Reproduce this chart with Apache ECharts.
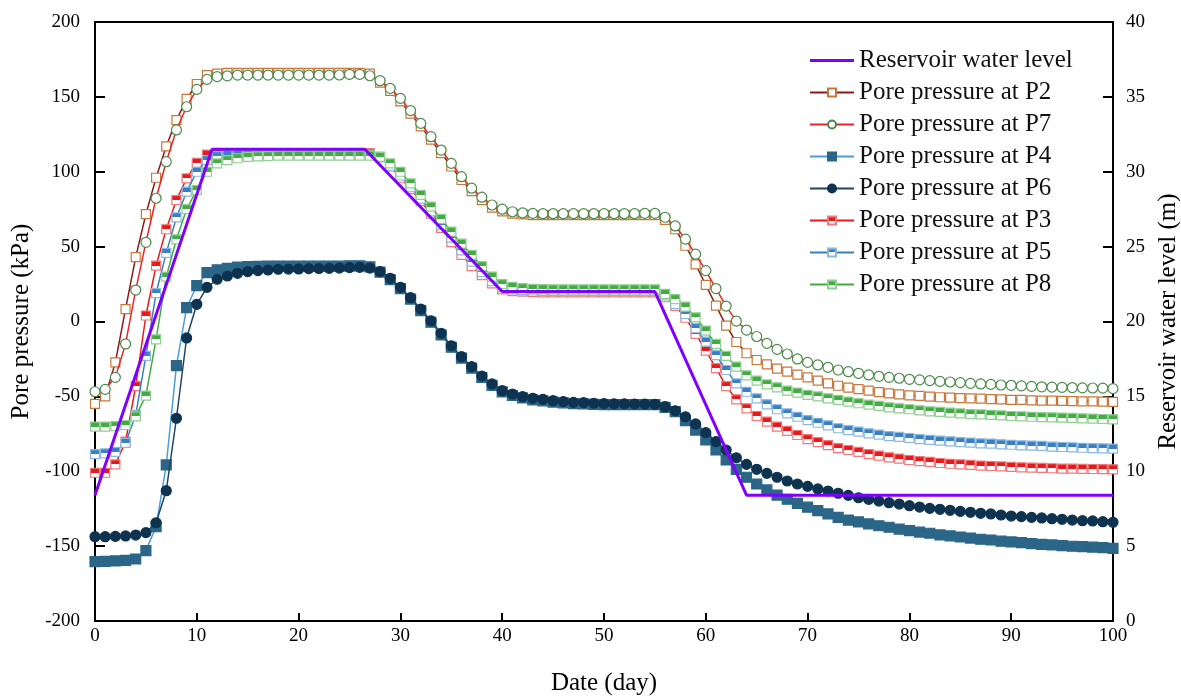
<!DOCTYPE html>
<html><head><meta charset="utf-8">
<script src="https://cdn.jsdelivr.net/npm/echarts@6/dist/echarts.min.js"></script>
<style>html,body{margin:0;padding:0;background:#fff}#c{width:1181px;height:697px}</style>
</head><body><div id="c"></div>
<script>
// Day axis (0..100)
const days = Array.from({length: 101}, (_, i) => i);

// Reservoir water level (m), right axis
const resDays  = [0, 11.5, 26.5, 40, 55, 64, 100];
const resLevel = [8.4, 31.5, 31.5, 22.0, 22.0, 8.4, 8.4];

// Pore pressures (kPa), one value per day
const p2 = [
 -55, -50, -27.3, 8.3, 43, 71.7, 96, 117, 134.5, 148.6,
 158.6, 164.5, 165.5, 166, 166, 166, 166, 166, 166, 166,
 166, 166, 166, 166, 166, 166, 166, 165.5, 159.5, 154,
 147, 138.8, 130.3, 121.4, 112.5, 103.5, 94.5, 87, 81, 76,
 73.5, 72, 71.5, 71, 71, 71, 71, 71, 71, 71,
 71, 71, 71, 71, 71, 71, 67.8, 61.6, 50.6, 38.2,
 24.4, 10.6, -2.8, -13.7, -21.2, -25.7, -28.6, -31.5, -33.5, -35.5,
 -37.3, -39.5, -41.3, -42.9, -44.2, -45.1, -46.2, -47.1, -48, -48.6,
 -49.3, -49.7, -50.2, -50.6, -50.9, -51.2, -51.3, -51.5, -51.8, -52,
 -52.3, -52.4, -52.7, -52.8, -52.9, -53, -53.2, -53.3, -53.4, -53.5,
 -53.7];
const p7 = [
 -46.9, -45.3, -37.3, -15, 21, 52.9, 82.3, 106.7, 127.9, 143.4,
 155, 161.7, 163.5, 164, 164.5, 164.5, 164.5, 164.5, 164.5, 164.5,
 164.5, 164.5, 164.5, 164.5, 164.6, 165, 165, 164.1, 160.8, 155.7,
 149, 140.8, 132.3, 123.4, 114.5, 105.6, 96.7, 89, 83, 77.8,
 75, 73.3, 72.5, 72.2, 72, 72, 72, 72, 72, 72,
 72, 72, 72, 72, 72.2, 72.2, 69.6, 63.8, 55, 45,
 34, 22, 10.3, 0.3, -5.7, -10, -14.6, -18.6, -21.7, -25,
 -27.3, -29, -30.6, -32.4, -33.5, -34.6, -35.7, -36.6, -37.3, -37.9,
 -38.6, -39, -39.5, -40, -40.4, -40.8, -41.3, -41.7, -42, -42.4,
 -42.6, -43, -43.3, -43.6, -43.8, -44, -44.1, -44.3, -44.4, -44.5,
 -44.8];
const p4 = [
 -160.4, -160.2, -159.9, -159.5, -158.6, -153, -137, -95.8, -29.5, 9.2,
 24, 32.6, 34.5, 35.5, 36.3, 36.6, 36.8, 37, 37, 37,
 37, 37, 37, 37, 37, 37.2, 37.2, 36.5, 33, 28,
 22, 15, 7.3, -0.5, -9, -17.2, -24.5, -31.2, -37.4, -42.7,
 -47, -49.4, -51, -52.3, -53, -53.8, -54.3, -54.8, -55, -55.3,
 -55.5, -55.5, -55.5, -55.5, -55.5, -55.5, -57.3, -60.2, -66.2, -72.5,
 -79.1, -85.8, -92.5, -98.7, -104, -108.5, -112.5, -115.9, -118.7, -121.5,
 -124, -126.3, -128.5, -130.8, -132.6, -133.8, -135.2, -136.4, -137.4, -138.7,
 -139.7, -140.6, -141.4, -142.5, -143.2, -143.9, -144.6, -145.4, -145.9, -146.7,
 -147.2, -147.7, -148.3, -148.8, -149.2, -149.7, -150.1, -150.4, -150.7, -151,
 -151.5];
const p6 = [
 -143.7, -143.7, -143.5, -143.2, -142.6, -141, -134.4, -113, -64.6, -11,
 11.5, 22.8, 28.2, 30.4, 32.2, 33.3, 34, 34.4, 34.9, 35,
 35.1, 35.3, 35.4, 35.5, 35.7, 36, 36.2, 35.7, 33.3, 28.8,
 22.8, 15.9, 8.3, 0.5, -7.9, -16.2, -23.5, -30.2, -36.4, -41.7,
 -46.2, -48.4, -50.2, -51.3, -52, -52.9, -53.5, -54, -54.2, -54.6,
 -54.8, -55, -55, -55.1, -55.2, -55.3, -56.9, -59.6, -63.6, -68.4,
 -74.2, -80.2, -85.8, -91, -95.4, -98.7, -101.4, -104, -106.5, -108.5,
 -110.1, -111.8, -113.2, -114.7, -116.1, -117.7, -118.8, -119.9, -121, -121.9,
 -123, -123.9, -124.8, -125.4, -126.1, -126.8, -127.4, -128.1, -128.5, -129.2,
 -129.9, -130.3, -130.8, -131.2, -131.7, -132.1, -132.6, -133, -133.2, -133.7,
 -134.1];
const p3 = [
 -101, -101, -95.4, -80.2, -43.2, 4, 37.3, 61.6, 81.1, 95.6,
 106, 111.5, 112.5, 112.5, 112.5, 112.5, 112.5, 112.5, 112.5, 112.5,
 112.5, 112.5, 112.5, 112.5, 112.5, 112.5, 112.5, 112.5, 110, 103.5,
 96, 88.5, 80.5, 72, 62.5, 53, 44.5, 37, 31, 25.5,
 21.5, 20.3, 19.9, 19.6, 19.5, 19.5, 19.5, 19.5, 19.5, 19.5,
 19.5, 19.5, 19.5, 19.5, 19.5, 19.5, 16.2, 10.4, 2.5, -8.3,
 -19.5, -31.2, -43.1, -52, -58, -63.1, -66.9, -70.2, -73.1, -75.8,
 -78.5, -80.6, -82.6, -84.5, -85.8, -87.1, -88.5, -89.6, -90.7, -91.6,
 -92.5, -93.2, -93.8, -94.5, -95, -95.4, -95.8, -96.2, -96.5, -96.8,
 -97.1, -97.4, -97.6, -97.8, -98, -98.2, -98.3, -98.4, -98.5, -98.6,
 -98.7];
const p5 = [
 -88.5, -88, -87, -81, -62.4, -23, 19, 45.8, 69.5, 86.7,
 100, 107.8, 110.5, 111.2, 111.5, 111.5, 111.5, 111.5, 111.5, 111.5,
 111.5, 111.5, 111.5, 111.5, 111.5, 111.5, 111.5, 111.5, 109.5, 104,
 97.5, 90, 82, 73.5, 64.5, 56, 47.5, 40, 33, 27,
 23, 21.5, 21, 20.7, 20.5, 20.5, 20.5, 20.5, 20.5, 20.5,
 20.5, 20.5, 20.5, 20.5, 20.5, 20.5, 17.5, 11.7, 5, -4.5,
 -13.5, -22.4, -32.4, -41.3, -46.9, -51.3, -55.3, -58.6, -61.3, -63.6,
 -65.8, -67.6, -69.3, -71.3, -72.5, -73.6, -74.7, -75.6, -76.5, -77.1,
 -77.8, -78.5, -79.1, -79.6, -80, -80.5, -80.9, -81.4, -81.6, -82,
 -82.3, -82.7, -82.9, -83.1, -83.6, -83.8, -84, -84.3, -84.5, -84.7,
 -84.9];
const p8 = [
 -70.2, -70.2, -69.8, -69.1, -63.4, -49.5, -11.9, 29.9, 54.9, 75,
 87.8, 100, 105.6, 107.8, 109, 110, 110.3, 110.5, 110.8, 110.8,
 110.8, 110.8, 110.8, 110.8, 110.8, 110.8, 110.8, 110.8, 110, 105.6,
 100, 92.3, 84.5, 76.7, 68.5, 60, 52, 44.5, 37, 30,
 25, 23.2, 22.3, 21.8, 21.6, 21.5, 21.5, 21.5, 21.5, 21.5,
 21.5, 21.5, 21.5, 21.5, 21.5, 21.5, 18.4, 15, 9.9, 2.8,
 -6.1, -15, -23, -30.2, -36, -39.5, -42, -44, -46.2, -47.5,
 -49, -50, -51.3, -52.4, -53.5, -54.6, -55.5, -56.4, -57.3, -58,
 -58.6, -59.3, -60, -60.4, -60.9, -61.3, -61.8, -62, -62.4, -62.7,
 -63.1, -63.3, -63.6, -63.8, -64, -64.2, -64.4, -64.7, -64.9, -65.1,
 -65.3];

const FONT = 'Liberation Serif';
function pts(arr) { return arr.map((v, i) => [days[i], v]); }
function halfFill(c) {
  return {type: 'linear', x: 0, y: 0, x2: 0, y2: 1, colorStops: [
    {offset: 0, color: c}, {offset: 0.5, color: c},
    {offset: 0.5, color: '#ffffff'}, {offset: 1, color: '#ffffff'}]};
}
function ser(name, arr, symbol, size, lineColor, fill, border, z) {
  return {
    name: name, type: 'line', data: pts(arr), z: z,
    symbol: symbol, symbolSize: size, showSymbol: true, showAllSymbol: true,
    lineStyle: {color: lineColor, width: 1.5},
    itemStyle: {color: fill, borderColor: border, borderWidth: 1.2},
    emphasis: {disabled: true}
  };
}

const chart = echarts.init(document.getElementById('c'), null, {renderer: 'canvas'});
const axisLabelStyle = {fontFamily: FONT, fontSize: 19, color: '#000'};
const nameStyle = {fontFamily: FONT, fontSize: 25, color: '#000'};
chart.setOption({
  animation: false,
  backgroundColor: '#fff',
  grid: {left: 95, right: 68, top: 22, bottom: 76, containLabel: false, outerBoundsMode: 'none'},
  legend: {
    orient: 'vertical', left: 804, top: 43,
    itemWidth: 44, itemHeight: 10, itemGap: 7,
    textStyle: {fontFamily: FONT, fontSize: 25, color: '#111'},
    data: [
      {name: 'Reservoir water level',
       icon: 'path://M0,0 M44,10 M0,3.6 L44,3.6 L44,6.4 L0,6.4 Z',
       itemStyle: {color: '#8000ff', borderWidth: 0}},
      'Pore pressure at P2', 'Pore pressure at P7',
      'Pore pressure at P4', 'Pore pressure at P6', 'Pore pressure at P3',
      'Pore pressure at P5', 'Pore pressure at P8']
  },
  xAxis: [{
    type: 'value', min: 0, max: 100, interval: 10,
    name: 'Date (day)', nameLocation: 'middle', nameGap: 50, nameTextStyle: nameStyle,
    axisLine: {onZero: false, lineStyle: {color: '#000', width: 2}},
    axisTick: {inside: true, length: 8, lineStyle: {color: '#000', width: 2}},
    axisLabel: Object.assign({margin: 6}, axisLabelStyle),
    splitLine: {show: false}
  }, {
    type: 'value', min: 0, max: 100, position: 'top',
    axisLine: {show: true, onZero: false, lineStyle: {color: '#000', width: 2}},
    axisTick: {show: false}, axisLabel: {show: false}, splitLine: {show: false}
  }],
  yAxis: [{
    type: 'value', min: -200, max: 200, interval: 50, position: 'left',
    name: 'Pore pressure (kPa)', nameLocation: 'middle', nameGap: 58, nameTextStyle: nameStyle,
    axisLine: {show: true, onZero: false, lineStyle: {color: '#000', width: 2}},
    axisTick: {show: true, inside: true, length: 10, lineStyle: {color: '#000', width: 2}},
    axisLabel: Object.assign({margin: 15}, axisLabelStyle),
    splitLine: {show: false}
  }, {
    type: 'value', min: 0, max: 40, interval: 5, position: 'right',
    name: 'Reservoir water level (m)', nameLocation: 'middle', nameGap: 34, nameTextStyle: nameStyle,
    axisLine: {show: true, onZero: false, lineStyle: {color: '#000', width: 2}},
    axisTick: {show: true, inside: true, length: 10, lineStyle: {color: '#000', width: 2}},
    axisLabel: Object.assign({margin: 13}, axisLabelStyle),
    splitLine: {show: false}
  }],
  series: [
    {
      name: 'Reservoir water level', type: 'line', yAxisIndex: 1, z: 20,
      data: resDays.map((d, i) => [d, resLevel[i]]),
      symbol: 'none', lineStyle: {color: '#8000ff', width: 3}, itemStyle: {color: '#8000ff'},
      emphasis: {disabled: true}
    },
    ser('Pore pressure at P2', p2, 'rect', 9, '#8b1a1a', '#ffffff', '#c8773a', 2),
    ser('Pore pressure at P7', p7, 'circle', 10, '#e8262a', '#ffffff', '#4a8a4a', 3),
    ser('Pore pressure at P4', p4, 'rect', 10, '#4a9fd8', '#2b6688', '#2b6688', 4),
    ser('Pore pressure at P6', p6, 'circle', 10, '#1f4466', '#0e3350', '#0e3350', 5),
    ser('Pore pressure at P3', p3, 'rect', 9, '#e41a1c', halfFill('#e41a1c'), '#f07878', 6),
    ser('Pore pressure at P5', p5, 'rect', 9, '#3a80c0', halfFill('#3a80c0'), '#8ab8e0', 7),
    ser('Pore pressure at P8', p8, 'rect', 9, '#44aa44', halfFill('#44aa44'), '#90d090', 8)
  ]
});
</script>
</body></html>
